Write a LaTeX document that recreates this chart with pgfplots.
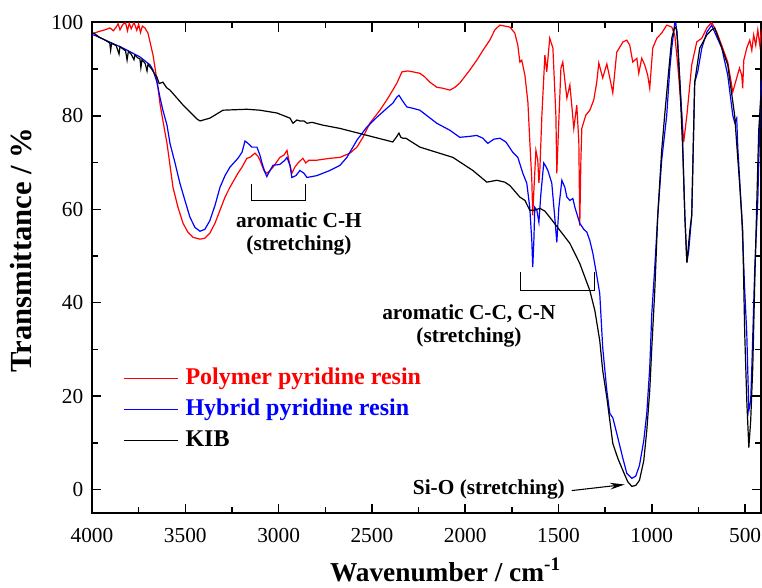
\documentclass[border=0pt]{standalone}
\usepackage{pgfplots}
\pgfplotsset{compat=1.18}
\usepackage{fontspec}
\setmainfont{Liberation Serif}
\usetikzlibrary{arrows.meta}
\begin{document}
\begin{tikzpicture}
\path[use as bounding box] (-69pt,-55.5pt) rectangle (502.5pt,384.75pt);
\begin{axis}[
  scale only axis, width=502pt, height=368pt,
  x dir=reverse, xmin=413, xmax=4000, ymin=-5, ymax=100,
  xtick={500,1000,...,4000}, ytick={0,20,...,100},
  minor x tick num=1, minor y tick num=1,
  tick align=inside,
  major tick length=7pt, minor tick length=4.5pt,
  axis line style={line width=1.3pt},
  every tick/.style={line width=1.1pt, black},
  /pgf/number format/assume math mode=true,
  /pgf/number format/1000 sep={},
  tick label style={font=\fontsize{16}{16}\selectfont},
  yticklabel style={xshift=-3pt},
  xticklabel style={yshift=-8pt},
  xlabel={Wavenumber / cm\textsuperscript{-1}},
  ylabel={Transmittance / \%},
  xlabel style={font=\bfseries\fontsize{20.5}{21}\selectfont, at={([yshift=-51pt]rel axis cs:0.528,0)}, anchor=base},
  ylabel style={font=\bfseries\fontsize{23}{23}\selectfont, at={([xshift=-45pt]rel axis cs:0,0.536)}, anchor=base},
  legend style={at={(axis cs:3834,26.8)}, anchor=north west, draw=none, fill=none,
    inner sep=0pt, outer sep=0pt, row sep=2.25pt,
    nodes={inner sep=2pt, text height=13pt, text depth=4pt},
    /tikz/every odd column/.style={column sep=3pt},
    font=\bfseries\fontsize{18}{20}\selectfont},
  legend cell align=left,
  legend image code/.code={\draw[#1] (0pt,0pt) -- (41pt,0pt);},
]
\addplot[red, line width=0.9pt] coordinates {
(3990,97.7)(3957,98.1)(3930,98.4)(3904,98.8)(3885,98.2)(3870,99.0)(3860,99.7)(3850,98.4)(3834,99.6)(3820,99.9)(3810,98.2)(3800,99.8)(3790,98.6)(3775,100)(3760,98.3)(3750,99.6)(3740,97.8)(3730,99.2)(3716,98.8)(3700,97.7)(3689,95.8)(3673,93.0)(3662,90.2)(3646,85.9)(3636,82.7)(3625,80.1)(3609,76.5)(3598,74.1)(3582,69.4)(3566,64.7)(3539,60.4)(3512,57.0)(3486,55.1)(3459,54.0)(3421,53.6)(3395,53.8)(3368,54.9)(3341,57.0)(3314,59.8)(3287,62.6)(3261,64.7)(3218,67.7)(3196,69.0)(3170,70.9)(3154,71.1)(3127,72.0)(3111,71.4)(3100,70.5)(3079,68.3)(3063,67.7)(3046,68.3)(3030,69.0)(2993,71.1)(2971,71.6)(2955,72.6)(2945,70.5)(2929,67.7)(2913,69.0)(2896,69.9)(2870,70.9)(2854,69.9)(2838,70.5)(2795,70.5)(2725,70.9)(2671,71.1)(2618,72.0)(2580,73.3)(2548,75.4)(2511,78.4)(2457,81.2)(2420,83.4)(2388,85.5)(2366,87.0)(2339,89.4)(2307,89.6)(2280,89.4)(2243,89.1)(2216,88.3)(2189,87.2)(2152,86.1)(2120,85.9)(2082,85.5)(2055,86.1)(2029,87.0)(1975,89.8)(1938,91.9)(1905,94.0)(1868,96.2)(1841,98.4)(1814,99.4)(1788,99.2)(1761,99.0)(1734,97.7)(1718,95.1)(1707,91.5)(1697,91.9)(1680,88.7)(1664,82.9)(1654,74.8)(1643,66.2)(1638,58.7)(1632,64.0)(1621,72.6)(1611,70.5)(1605,65.6)(1600,68.3)(1589,80.1)(1573,93.0)(1563,89.4)(1547,96.6)(1530,94.5)(1514,80.1)(1509,67.7)(1498,79.1)(1487,90.2)(1477,91.5)(1466,87.6)(1455,83.8)(1439,86.6)(1429,82.3)(1418,77.3)(1402,82.3)(1391,74.4)(1386,56.5)(1380,70.5)(1375,77.3)(1354,80.1)(1332,81.2)(1311,83.4)(1295,87.2)(1284,91.3)(1263,88.1)(1241,91.1)(1225,88.1)(1209,84.9)(1188,93.6)(1155,95.8)(1134,96.2)(1118,95.1)(1102,91.5)(1080,92.3)(1070,89.1)(1054,92.3)(1038,90.9)(1022,88.7)(1011,85.9)(995,94.5)(973,96.6)(947,97.7)(920,99.4)(893,99.0)(877,97.3)(861,90.9)(839,80.1)(829,74.4)(812,80.1)(786,90.9)(759,95.8)(732,96.6)(705,98.8)(679,100)(652,97.9)(620,94.5)(593,91.5)(566,85.1)(545,88.1)(530,90.2)(518,88.7)(513,85.9)(507,91.9)(491,94.5)(475,96.2)(464,94.0)(454,97.3)(443,95.1)(432,98.4)(421,95.1)(413,98.4)
};
\addlegendentry{\textcolor{red}{Polymer pyridine resin}}
\addplot[blue, line width=0.9pt] coordinates {
(4000,97.3)(3990,97.3)(3834,94.5)(3743,92.6)(3689,90.9)(3673,89.8)(3652,87.2)(3636,84.0)(3620,81.2)(3598,78.0)(3582,74.1)(3555,69.9)(3529,65.6)(3502,61.9)(3475,58.3)(3448,56.1)(3421,55.3)(3395,55.7)(3368,57.6)(3341,60.8)(3314,64.7)(3287,67.2)(3261,69.0)(3218,70.9)(3196,72.2)(3180,74.6)(3164,74.1)(3143,73.3)(3116,73.3)(3100,71.6)(3089,69.9)(3073,67.9)(3063,67.0)(3046,68.3)(3030,69.4)(2993,69.6)(2966,70.5)(2955,71.1)(2939,69.4)(2929,66.8)(2907,67.2)(2886,68.3)(2864,67.7)(2848,66.8)(2821,67.0)(2795,67.2)(2725,68.3)(2671,69.4)(2634,71.1)(2580,74.8)(2527,77.6)(2473,79.7)(2420,81.6)(2388,82.7)(2366,84.0)(2355,84.4)(2339,83.4)(2313,81.9)(2280,81.6)(2243,81.2)(2152,78.4)(2082,76.9)(2029,75.4)(1975,75.6)(1938,75.8)(1905,75.2)(1879,74.1)(1846,75.0)(1814,75.2)(1782,74.4)(1745,72.2)(1718,71.1)(1691,67.7)(1670,65.6)(1654,60.4)(1643,53.3)(1638,47.6)(1632,53.3)(1627,60.4)(1616,59.8)(1605,57.2)(1595,63.0)(1589,65.6)(1579,69.9)(1568,69.2)(1557,68.3)(1536,65.6)(1520,58.3)(1509,52.9)(1498,60.4)(1482,66.2)(1466,64.7)(1455,62.6)(1439,61.9)(1423,62.3)(1412,60.4)(1386,57.0)(1364,55.7)(1348,55.1)(1332,53.3)(1316,50.6)(1300,47.0)(1279,42.0)(1263,30.4)(1241,21.2)(1225,16.3)(1209,15.4)(1182,11.1)(1155,6.7)(1134,3.5)(1107,2.4)(1086,2.9)(1066,5.2)(1043,10.5)(1027,16.3)(1011,26.1)(1000,37.7)(984,47.6)(968,58.7)(947,70.5)(920,80.1)(904,89.8)(893,94.5)(877,99.8)(871,99.8)(861,95.8)(839,80.1)(823,58.7)(812,48.6)(802,51.2)(786,58.7)(770,87.2)(754,89.4)(732,94.5)(705,97.9)(679,99.4)(663,97.9)(625,94.5)(593,88.7)(566,80.1)(556,78.6)(545,79.5)(539,73.1)(518,58.7)(502,42.6)(491,33.4)(480,16.9)(470,19.1)(464,26.1)(448,47.6)(432,61.9)(421,79.1)(413,87.6)
};
\addlegendentry{\textcolor{blue}{Hybrid pyridine resin}}
\addplot[black, line width=0.9pt] coordinates {
(4000,97.5)(3990,97.7)(3960,96.8)(3930,96.2)(3905,95.6)(3900,94.0)(3895,95.5)(3870,95.0)(3855,93.2)(3850,94.8)(3834,94.3)(3820,93.9)(3812,91.9)(3805,93.8)(3790,93.2)(3775,92.0)(3770,93.0)(3755,92.4)(3743,92.2)(3738,90.3)(3732,92.0)(3715,91.2)(3705,89.6)(3700,91.0)(3680,90.0)(3665,89.0)(3652,88.3)(3640,86.9)(3620,87.2)(3600,86.0)(3582,85.5)(3512,82.3)(3437,79.3)(3421,78.9)(3368,79.5)(3298,81.2)(3170,81.4)(3100,81.2)(3009,80.6)(2939,79.5)(2923,78.4)(2902,79.1)(2886,78.9)(2864,78.9)(2848,78.4)(2821,78.6)(2763,78.0)(2671,77.3)(2388,74.4)(2366,75.6)(2355,76.3)(2345,75.4)(2334,75.2)(2318,75.2)(2243,73.3)(2066,71.1)(1959,68.3)(1884,65.8)(1857,66.0)(1830,66.2)(1788,65.8)(1761,65.1)(1707,62.6)(1680,61.9)(1654,59.8)(1627,59.8)(1600,60.2)(1573,59.6)(1547,58.3)(1493,55.5)(1439,52.7)(1386,48.4)(1332,42.6)(1305,38.3)(1279,31.9)(1263,25.5)(1241,19.7)(1225,14.8)(1209,9.9)(1182,6.7)(1155,4.1)(1129,1.7)(1107,0.7)(1086,0.9)(1066,2.0)(1043,6.2)(1027,12.6)(1011,21.2)(1000,30.4)(984,42.6)(968,58.7)(947,72.6)(931,80.1)(909,89.8)(893,96.6)(877,99.0)(866,98.4)(850,87.2)(834,72.6)(823,58.7)(812,48.6)(796,55.5)(786,58.7)(770,87.2)(743,94.5)(705,97.3)(679,98.4)(663,98.8)(636,95.8)(593,90.9)(556,80.1)(530,65.8)(513,55.5)(502,33.4)(491,19.1)(480,9.0)(470,14.8)(459,26.1)(448,44.8)(437,61.9)(427,76.9)(413,85.5)
};
\addlegendentry{\textcolor{black}{KIB}}
% annotations
\draw[line width=0.8pt] (axis cs:3144,65.5) -- (axis cs:3144,61.9) -- (axis cs:2854,61.9) -- (axis cs:2854,65.5);
\draw[line width=0.8pt] (axis cs:1702,46.5) -- (axis cs:1702,42.6) -- (axis cs:1305,42.6) -- (axis cs:1305,46.5);
\node[font=\bfseries\fontsize{16}{17.5}\selectfont, align=center] at (axis cs:2891,54.7) {aromatic C-H\\(stretching)};
\node[font=\bfseries\fontsize{16}{17.5}\selectfont, align=center] at (axis cs:1980,35.1) {aromatic C-C, C-N\\(stretching)};
\node[font=\bfseries\fontsize{16}{17.5}\selectfont] at (axis cs:1873,0) {Si-O (stretching)};
\draw[line width=0.8pt, -{Stealth[length=11pt,width=5pt]}] (axis cs:1429,-0.2) -- (axis cs:1145,1.1);
\end{axis}
\end{tikzpicture}
\end{document}
